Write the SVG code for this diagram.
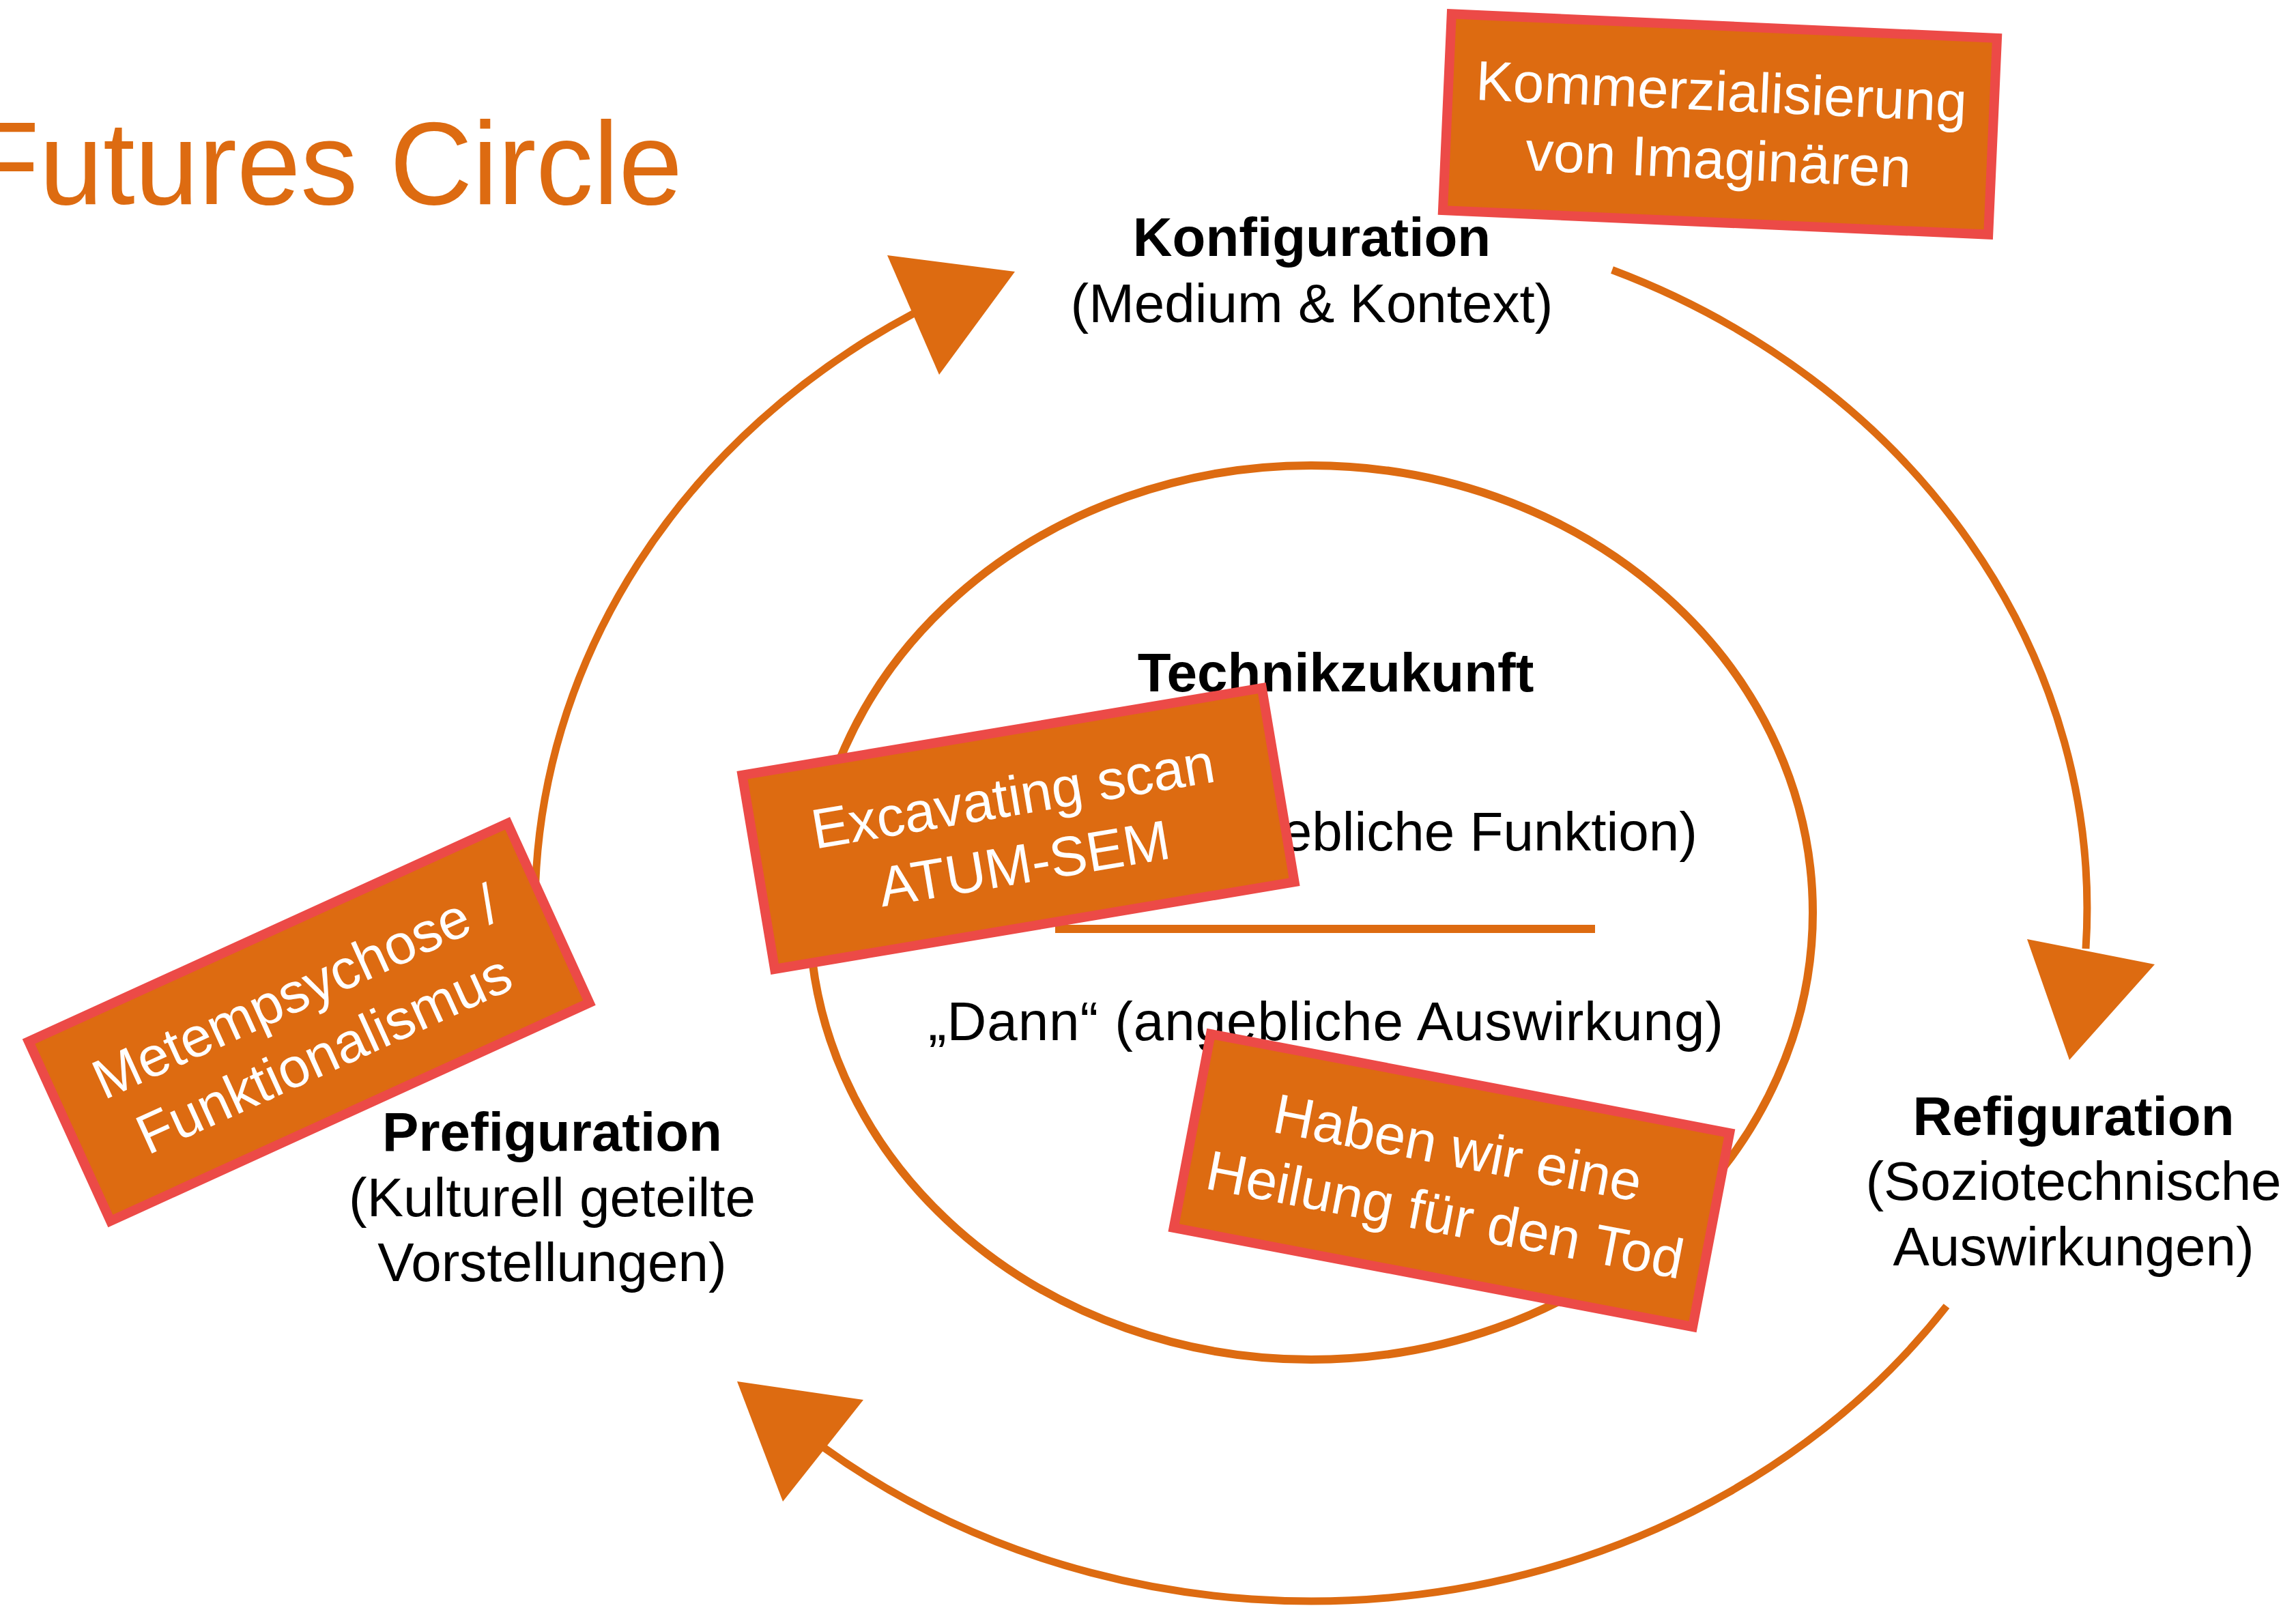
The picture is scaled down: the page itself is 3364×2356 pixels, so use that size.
<svg xmlns="http://www.w3.org/2000/svg" width="3364" height="2356" viewBox="0 0 3364 2356">
  <style>
    .arc { fill: none; stroke: #DD6B11; stroke-width: 11; }
    .ring { fill: none; stroke: #DD6B11; stroke-width: 12; }
    .head { fill: #DD6B11; stroke: none; }
    .box { fill: #DD6B11; stroke: #EC4A47; stroke-width: 14; }
    .bt { font-family: "Liberation Sans", Arial, sans-serif; font-size: 82px; fill: #FFFFFF; text-anchor: middle; }
    .lbl { font-family: "Liberation Sans", Arial, sans-serif; font-size: 80px; fill: #000000; text-anchor: middle; }
    .b { font-weight: bold; }
    .title { font-family: "Liberation Sans", Arial, sans-serif; font-size: 172px; fill: #DD6B11; }
  </style>
  <rect x="0" y="0" width="3364" height="2356" fill="#FFFFFF"/>

  <g id="title">
    <text class="title" x="-45" y="299" textLength="1045" lengthAdjust="spacingAndGlyphs">Futures Circle</text>
  </g>

  <g id="connectors">
    <path class="arc" d="M 784 1320 A 1137 1015 0 0 1 1338 459.6"/>
    <polygon class="head" points="1300,374 1487,398 1376,549"/>
    <path class="arc" d="M 2362 395.5 A 1137 1015 0 0 1 3056 1390"/>
    <polygon class="head" points="2970,1376 3157,1413 3032,1553"/>
    <path class="arc" d="M 2852 1913.7 A 1137 1015 0 0 1 1206 2120.2"/>
    <polygon class="head" points="1080,2024 1265,2051 1147,2200"/>
  </g>

  <g id="node-technikzukunft">
    <ellipse class="ring" cx="1921" cy="1337" rx="735" ry="655"/>
    <text class="lbl b" x="1957" y="1013">Technikzukunft</text>
    <text class="lbl" x="2487" y="1246" style="text-anchor:end">(angebliche Funktion)</text>
    <line x1="1546" y1="1361" x2="2337" y2="1361" stroke="#DD6B11" stroke-width="12"/>
    <text class="lbl" x="1360" y="1524" style="text-anchor:start" textLength="1165" lengthAdjust="spacing">„Dann“ (angebliche Auswirkung)</text>
  </g>

  <g id="node-konfiguration">
    <text class="lbl b" x="1922" y="375">Konfiguration</text>
    <text class="lbl" x="1922" y="472">(Medium &amp; Kontext)</text>
  </g>

  <g id="node-prefiguration">
    <text class="lbl b" x="809" y="1686">Prefiguration</text>
    <text class="lbl" x="809" y="1782">(Kulturell geteilte</text>
    <text class="lbl" x="809" y="1877">Vorstellungen)</text>
  </g>

  <g id="node-refiguration">
    <text class="lbl b" x="3038" y="1663">Refiguration</text>
    <text class="lbl" x="3038" y="1758">(Soziotechnische</text>
    <text class="lbl" x="3038" y="1854">Auswirkungen)</text>
  </g>

  <g id="note-kommerzialisierung" transform="translate(2520 182) rotate(2.55)">
    <rect class="box" x="-400" y="-144" width="800" height="288"/>
    <text class="bt" x="0" y="-20">Kommerzialisierung</text>
    <text class="bt" x="0" y="80">von Imaginären</text>
  </g>

  <g id="note-excavating" transform="translate(1492 1214) rotate(-9.52)">
    <rect class="box" x="-386" y="-144" width="772" height="288"/>
    <text class="bt" x="0" y="-20">Excavating scan</text>
    <text class="bt" x="0" y="80">ATUM-SEM</text>
  </g>

  <g id="note-metempsychose" transform="translate(453 1497) rotate(-24.5)">
    <rect class="box" x="-386" y="-144" width="771" height="289"/>
    <text class="bt" x="0" y="-20">Metempsychose /</text>
    <text class="bt" x="0" y="80">Funktionalismus</text>
  </g>

  <g id="note-heilung" transform="translate(2127 1729) rotate(10.8)">
    <rect class="box" x="-387" y="-144" width="774" height="289"/>
    <text class="bt" x="0" y="-20">Haben wir eine</text>
    <text class="bt" x="0" y="80">Heilung für den Tod</text>
  </g>
</svg>
